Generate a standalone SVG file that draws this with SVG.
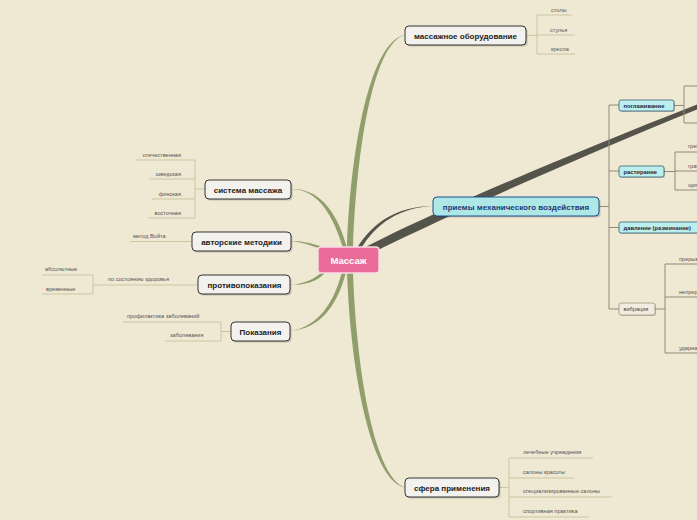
<svg xmlns="http://www.w3.org/2000/svg" width="697" height="520" viewBox="0 0 697 520">
<defs>
<style>
.bg{fill:#efe8d3}
.br{fill:#8f9e6b}
.dk{fill:#55544a}
.cl{stroke:#c9c7a0;stroke-width:1;fill:none}
.gl{stroke:#8f8a78;stroke-width:1;fill:none}
.nd{fill:#f3f2ef;stroke:#333;stroke-width:1}
.sh{fill:#000;opacity:0.18}
.nt{font-family:"Liberation Sans",Arial,sans-serif;font-weight:bold;font-size:8px;fill:#222;text-anchor:middle}
.ct{font-family:"Liberation Sans",Arial,sans-serif;font-size:5.6px;fill:#555}
.sn{fill:#bdeeee;stroke:#35607a;stroke-width:0.8}
.st{font-family:"Liberation Sans",Arial,sans-serif;font-weight:bold;font-size:5.8px;fill:#1d2a3a}
</style>
</defs>
<rect class="bg" x="0" y="0" width="697" height="520"/>

<g id="connectors">
  <path class="br" d="M347,247 C351,140 372,40 405,35 C375,42 357,140 353,247 Z"/>
  <path class="br" d="M347,273 C351,380 373,482 405,487.5 C376,478 357,380 353,273 Z"/>
  <path class="br" d="M291,189 C321,189 335,222 343,248 L347,248 C339,218 323,188 291,189 Z"/>
  <path class="br" d="M291,241 C302,241 310,243 320,246 L320,248.5 C310,245.5 302,242 291,241 Z"/>
  <path class="br" d="M291,285 C303,284 315,279 322,272 L325,273 C317,282 304,285 291,285 Z"/>
  <path class="br" d="M291,331 C318,326 333,305 342,272 L346,272 C337,307 320,328 291,331 Z"/>
  <path class="dk" d="M357,248 C373,222 398,206 433,206 C400,207.5 376,223 360.5,249.5 Z"/>
  <path class="dk" d="M362,249 C420,218 560,158 697,104.5 L697,109.5 C562,164 426,226 374,252 Z"/>

  <path class="cl" d="M526,35.5 H537 M537,15 V54 M537,15 H572 M537,35 H575 M537,54 H575"/>
  <path class="cl" d="M205,189 H195 M195,160 V218 M195,160 H135 M195,179 H149 M195,199 H152 M195,218 H148"/>
  <path class="cl" d="M192,241.5 H130"/>
  <path class="cl" d="M198,285 H93 M93,275 V294 M93,275 H42 M93,294 H42"/>
  <path class="cl" d="M231,331.5 H221 M221,322 V341 M221,322 H123 M221,341 H165"/>
  <path class="cl" d="M499,487.5 H509 M509,458 V517 M509,458 H593 M509,478 H574 M509,497 H612 M509,517 H589"/>

  <path class="gl" d="M599,206.5 H609 M609,105 V309 M609,105 H619 M609,171 H619 M609,227.5 H619 M609,309 H619"/>
  <path class="gl" d="M674,105.5 H684 M684,86 V123 M684,86 H697 M684,123 H697"/>
  <path class="gl" d="M664,171.5 H675 M675,152 V190 M675,152 H697 M675,171 H697 M675,190 H697"/>
  <path class="gl" d="M655,309 H665 M665,264 V353 M665,264 H697 M665,297 H697 M665,353 H697"/>
</g>

<g id="node-center">
  <rect x="318" y="247" width="61" height="26" rx="3" fill="#ea6b98" stroke="#f7dbe5" stroke-width="1.5"/>
  <text x="348.5" y="263.5" font-family="Liberation Sans,Arial,sans-serif" font-weight="bold" font-size="9.5" fill="#fff" text-anchor="middle">Массаж</text>
</g>

<g id="node-equipment">
  <rect class="sh" x="406.5" y="27.5" width="121" height="19" rx="4"/>
  <rect class="nd" x="405" y="26" width="121" height="19" rx="4"/>
  <text class="nt" x="465.5" y="38.5">массажное оборудование</text>
  <text class="ct" x="551" y="12">столы</text>
  <text class="ct" x="550" y="32">стулья</text>
  <text class="ct" x="551" y="51">кресла</text>
</g>

<g id="node-system">
  <rect class="sh" x="206.5" y="181.5" width="86" height="19" rx="4"/>
  <rect class="nd" x="205" y="180" width="86" height="19" rx="4"/>
  <text class="nt" x="248" y="192.5">система массажа</text>
  <text class="ct" x="181" y="157" text-anchor="end">отечественная</text>
  <text class="ct" x="181" y="176" text-anchor="end">шведская</text>
  <text class="ct" x="181" y="196" text-anchor="end">финская</text>
  <text class="ct" x="181" y="215" text-anchor="end">восточная</text>
</g>

<g id="node-author">
  <rect class="sh" x="193.5" y="233.5" width="99" height="19" rx="4"/>
  <rect class="nd" x="192" y="232" width="99" height="19" rx="4"/>
  <text class="nt" x="241.5" y="244.5">авторские методики</text>
  <text class="ct" x="133" y="238">метод Войта</text>
</g>

<g id="node-contra">
  <rect class="sh" x="199.5" y="276.5" width="92" height="19" rx="4"/>
  <rect class="nd" x="198" y="275" width="92" height="19" rx="4"/>
  <text class="nt" x="244.5" y="287.5">противопоказания</text>
  <text class="ct" x="108" y="281">по состоянию здоровья</text>
  <text class="ct" x="45" y="271">абсолютные</text>
  <text class="ct" x="46" y="291">временные</text>
</g>

<g id="node-indications">
  <rect class="sh" x="232.5" y="323.5" width="59" height="19" rx="4"/>
  <rect class="nd" x="231" y="322" width="59" height="19" rx="4"/>
  <text class="nt" x="260.5" y="334.5">Показания</text>
  <text class="ct" x="127" y="318">профилактика заболеваний</text>
  <text class="ct" x="170" y="337">заболевания</text>
</g>

<g id="node-sphere">
  <rect class="sh" x="406.5" y="479.5" width="94" height="19" rx="4"/>
  <rect class="nd" x="405" y="478" width="94" height="19" rx="4"/>
  <text class="nt" x="452" y="490.5">сфера применения</text>
  <text class="ct" x="523" y="454">лечебные учреждения</text>
  <text class="ct" x="523" y="474">салоны красоты</text>
  <text class="ct" x="523" y="493">специализированные салоны</text>
  <text class="ct" x="523" y="513">спортивная практика</text>
</g>

<g id="node-techniques">
  <rect class="sh" x="434.5" y="198.5" width="166" height="19" rx="4"/>
  <rect x="433" y="197" width="166" height="19" rx="4" fill="#aee8e6" stroke="#1f4f8c" stroke-width="1"/>
  <text class="nt" x="516" y="209.5" style="fill:#1f3a78">приемы механического воздействия</text>
</g>

<g id="node-stroking">
  <rect class="sh" x="620" y="101" width="55" height="11" rx="2"/>
  <rect class="sn" x="619" y="100" width="55" height="11" rx="2"/>
  <text class="st" x="623.5" y="107.6">поглаживание</text>
</g>

<g id="node-rubbing">
  <rect class="sh" x="620" y="167" width="45" height="11" rx="2"/>
  <rect class="sn" x="619" y="166" width="45" height="11" rx="2"/>
  <text class="st" x="623.5" y="173.6">растирание</text>
  <text class="ct" x="688" y="148">гребнеобразное</text>
  <text class="ct" x="688" y="168">граблеобразное</text>
  <text class="ct" x="688" y="187">щипцеобразное</text>
</g>

<g id="node-pressure">
  <rect class="sh" x="620" y="223" width="100" height="11" rx="2"/>
  <rect class="sn" x="619" y="222" width="100" height="11" rx="2"/>
  <text class="st" x="623.5" y="229.6">давление (разминание)</text>
</g>

<g id="node-vibration">
  <rect class="sh" x="620" y="304" width="36" height="12" rx="2"/>
  <rect x="619" y="303" width="36" height="12" rx="2" fill="#f1ecdf" stroke="#9a9484" stroke-width="0.8"/>
  <text class="ct" x="623.5" y="311" style="fill:#444">вибрация</text>
  <text class="ct" x="679" y="261">прерывистая</text>
  <text class="ct" x="679" y="294">непрерывистая</text>
  <text class="ct" x="679" y="350">ударная</text>
</g>
</svg>
